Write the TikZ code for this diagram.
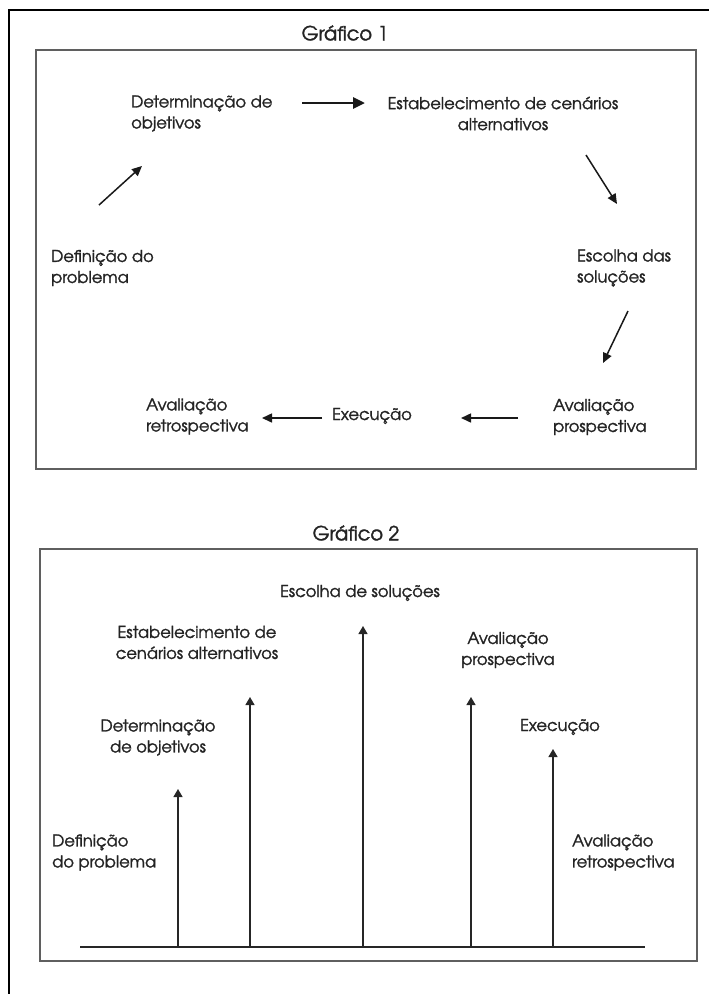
\documentclass[tikz,border=0pt]{standalone}
\usepackage{fontspec}
\setmainfont{texgyreadventor-regular.otf}
\newfontfamily\lblfont{texgyreadventor-regular.otf}[FakeBold=1.6]
\usetikzlibrary{arrows.meta}
\definecolor{boxgray}{RGB}{95,95,95}
\definecolor{txt}{RGB}{35,35,35}
\tikzset{
  lbl/.style={inner sep=0pt, text=txt, font=\lblfont\fontsize{16.3}{21}\selectfont},
  ttl/.style={inner sep=0pt, text=txt, font=\lblfont\fontsize{19.5}{24}\selectfont, anchor=center},
  lblL/.style={lbl, align=left, anchor=west},
  lblC/.style={lbl, align=center, anchor=center},
  panel/.style={draw=boxgray, line width=1.8pt},
  arr/.style={-{Triangle[length=10pt,width=9pt]}, line width=1.5pt, draw=black!90},
  arrbig/.style={-{Triangle[length=12pt,width=11pt]}, line width=2.8pt, draw=black!90},
  varr/.style={-{Triangle[length=8pt,width=9pt]}, line width=1.3pt, draw=black!85},
}
\begin{document}
\begin{tikzpicture}[x=1pt,y=-1pt]
\useasboundingbox (0,0) rectangle (709,994);
% outer frame
\draw[line width=1.8pt] (9,994) -- (9,10) -- (709,10);

% ---------- Grafico 1 ----------
\node[ttl] (t1) at (345,33) {Gráfico 1};
\draw[panel] (36,50) rectangle (696,469);

\node[lblL] (def1) at (51,268) {Definição do\\problema};
\node[lblL] (det1) at (131,113.5) {Determinação de\\objetivos};
\node[lblC] (est1) at (503,113.5) {Estabelecimento de cenários\\alternativos};
\node[lblL] (esc1) at (577,268) {Escolha das\\soluções};
\node[lblL] (ap1) at (553,417) {Avaliação\\prospectiva};
\node[lblL] (exe1) at (332,416) {Execução};
\node[lblL] (ar1) at (146,416.5) {Avaliação\\retrospectiva};

\coordinate (aS) at (99,205);  \coordinate (aE) at (142,166);
\coordinate (bS) at (302,103); \coordinate (bE) at (365,103);
\coordinate (cS) at (586,155); \coordinate (cE) at (617,204);
\coordinate (dS) at (628,311); \coordinate (dE) at (603,363);
\coordinate (eS) at (518,418); \coordinate (eE) at (461,418);
\coordinate (fS) at (322,418); \coordinate (fE) at (262,418);
\draw[arr] (aS) -- (aE);
\draw[arrbig] (bS) -- (bE);
\draw[arr] (cS) -- (cE);
\draw[arr] (dS) -- (dE);
\draw[arr] (eS) -- (eE);
\draw[arr] (fS) -- (fE);

% ---------- Grafico 2 ----------
\node[ttl] (t2) at (356,533) {Gráfico 2};
\draw[panel] (40,549) rectangle (697,961);

\coordinate (bl) at (80,947); \coordinate (br) at (645,947);
\draw[line width=1.4pt, draw=black!85] (bl) -- (br);

\coordinate (v1b) at (178,947); \coordinate (v1t) at (178,789);
\coordinate (v2b) at (250,947); \coordinate (v2t) at (250,697);
\coordinate (v3b) at (363,947); \coordinate (v3t) at (363,626);
\coordinate (v4b) at (471,947); \coordinate (v4t) at (471,697);
\coordinate (v5b) at (553,947); \coordinate (v5t) at (553,749);
\draw[varr] (v1b) -- (v1t);
\draw[varr] (v2b) -- (v2t);
\draw[varr] (v3b) -- (v3t);
\draw[varr] (v4b) -- (v4t);
\draw[varr] (v5b) -- (v5t);

\node[lblL] (def2) at (52,852.5) {Definição\\do problema};
\node[lblC] (det2) at (158,737.5) {Determinação\\de objetivos};
\node[lblC] (est2) at (197,642.5) {Estabelecimento de\\cenários alternativos};
\node[lblC] (esc2) at (360,593) {Escolha de soluções};
\node[lblC] (ap2) at (508,650) {Avaliação\\prospectiva};
\node[lblC] (exe2) at (560,727) {Execução};
\node[lblL] (ar2) at (572,852.5) {Avaliação\\retrospectiva};
\end{tikzpicture}
\end{document}
